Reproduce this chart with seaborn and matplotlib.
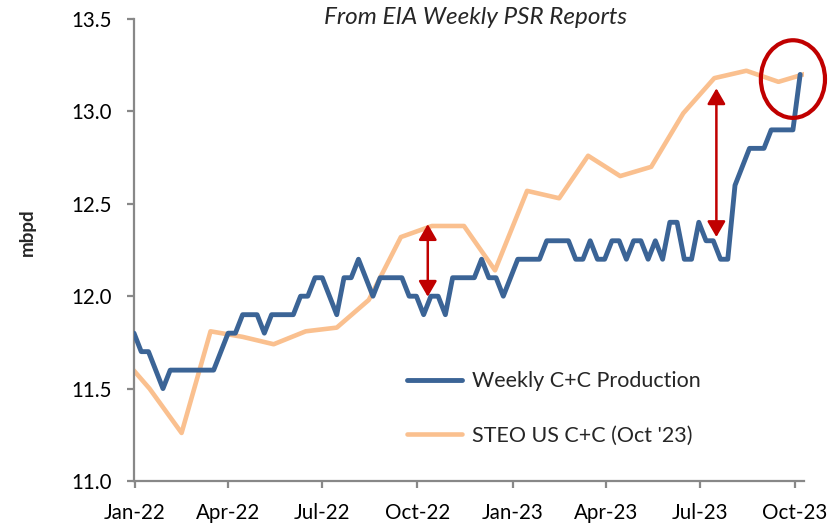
import numpy as np
import pandas as pd
import matplotlib
matplotlib.use("Agg")
import matplotlib.pyplot as plt
import matplotlib.dates as mdates
from matplotlib.patches import Ellipse
from matplotlib.lines import Line2D
import seaborn as sns

# ---------------- data ----------------
weekly_start = "2021-12-31"
weekly_values = [
    11.8, 11.7, 11.7, 11.6, 11.5,
    11.6, 11.6, 11.6, 11.6, 11.6, 11.6, 11.6,
    11.7, 11.8, 11.8, 11.9, 11.9, 11.9, 11.8, 11.9, 11.9, 11.9, 11.9,
    12.0, 12.0, 12.1, 12.1, 12.0, 11.9, 12.1, 12.1, 12.2, 12.1, 12.0,
    12.1, 12.1, 12.1, 12.1, 12.0, 12.0, 11.9, 12.0, 12.0, 11.9,
    12.1, 12.1, 12.1, 12.1, 12.2, 12.1, 12.1, 12.0, 12.1,
    12.2, 12.2, 12.2, 12.2, 12.3, 12.3, 12.3, 12.3, 12.2, 12.2, 12.3,
    12.2, 12.2, 12.3, 12.3, 12.2, 12.3, 12.3, 12.2, 12.3, 12.2,
    12.4, 12.4, 12.2, 12.2, 12.4, 12.3, 12.3, 12.2, 12.2,
    12.6, 12.7, 12.8, 12.8, 12.8, 12.9, 12.9, 12.9, 12.9, 13.2,
]
steo_months = [
    "2021-12-15", "2022-01-15", "2022-02-15", "2022-03-15", "2022-04-15",
    "2022-05-15", "2022-06-15", "2022-07-15", "2022-08-15", "2022-09-15",
    "2022-10-15", "2022-11-15", "2022-12-15", "2023-01-15", "2023-02-15",
    "2023-03-15", "2023-04-15", "2023-05-15", "2023-06-15", "2023-07-15",
    "2023-08-15", "2023-09-15", "2023-10-15",
]
steo_values = [
    11.70, 11.50, 11.26, 11.81, 11.78, 11.74, 11.81, 11.83, 11.98, 12.32,
    12.38, 12.38, 12.14, 12.57, 12.53, 12.76, 12.65, 12.70, 12.99, 13.18,
    13.22, 13.16, 13.21,
]
x_ticks = ["2022-01-01", "2022-04-01", "2022-07-01", "2022-10-01",
           "2023-01-01", "2023-04-01", "2023-07-01", "2023-10-01"]
y_ticks = [11.0, 11.5, 12.0, 12.5, 13.0, 13.5]
series_labels = ["Weekly C+C Production", "STEO US C+C (Oct '23)"]
title_text = "From EIA Weekly PSR Reports"
y_label = "mbpd"

# annotation arrows (date, low, high)
arrows = [("2022-10-11", 11.997, 12.39), ("2023-07-17", 12.32, 13.125)]
circle_center = ("2023-09-29", 13.175)

# ---------------- styling ----------------
BLUE = "#3B6496"
ORANGE = "#FAC08F"
RED = "#C00000"
GRAY = "#888888"
FONT = "Lato"

weekly_df = pd.DataFrame({
    "date": pd.date_range(weekly_start, periods=len(weekly_values), freq="7D"),
    "value": weekly_values,
})
steo_df = pd.DataFrame({"date": pd.to_datetime(steo_months), "value": steo_values})

sns.set_style("white")
plt.rcParams["font.family"] = [FONT, "DejaVu Sans"]

fig = plt.figure(figsize=(8.36, 5.23), dpi=100)
ax = fig.add_axes([134 / 836, 1 - 481 / 523, 670 / 836, 462 / 523])

sns.lineplot(data=steo_df, x="date", y="value", ax=ax, color=ORANGE,
             linewidth=3.3, solid_capstyle="round", solid_joinstyle="round",
             zorder=2)
sns.lineplot(data=weekly_df, x="date", y="value", ax=ax, color=BLUE,
             linewidth=3.5, solid_capstyle="round", solid_joinstyle="round",
             zorder=3)

x0 = pd.Timestamp(weekly_start)
ax.set_xlim(x0, x0 + pd.Timedelta(days=647.7))
ax.set_ylim(11.0, 13.5)
ax.set_xticks(pd.to_datetime(x_ticks))
ax.xaxis.set_major_formatter(mdates.DateFormatter("%b-%y"))
ax.set_yticks(y_ticks)
ax.yaxis.set_major_formatter(matplotlib.ticker.FormatStrFormatter("%.1f"))
ax.set_xlabel("")
ax.set_ylabel("")

for s in ["top", "right"]:
    ax.spines[s].set_visible(False)
for s in ["left", "bottom"]:
    ax.spines[s].set_color(GRAY)
    ax.spines[s].set_linewidth(1.6)
ax.tick_params(axis="y", direction="out", length=5, width=1.6, color=GRAY,
               labelsize=14.8, pad=11, labelcolor="black", left=True)
ax.tick_params(axis="x", direction="out", length=5, width=1.6, color=GRAY,
               labelsize=14.8, pad=11, labelcolor="black", bottom=True)

# arrows
for d, lo, hi in arrows:
    ax.annotate("", xy=(pd.Timestamp(d), hi), xytext=(pd.Timestamp(d), lo),
                arrowprops=dict(arrowstyle="<|-|>,head_length=0.95,head_width=0.55",
                                mutation_scale=10, color=RED, lw=1.8,
                                shrinkA=0, shrinkB=0), zorder=5)

# circle
cx = mdates.date2num(pd.Timestamp(circle_center[0]))
ell = Ellipse((cx, circle_center[1]), width=62, height=0.42, fill=False,
              edgecolor=RED, linewidth=3.0, clip_on=False, zorder=6)
ax.add_patch(ell)

# legend
handles = [Line2D([], [], color=BLUE, lw=3.5, solid_capstyle="round"),
           Line2D([], [], color=ORANGE, lw=3.3, solid_capstyle="round")]
fig.legend(handles, series_labels, loc="upper left",
           bbox_to_anchor=(388 / 836, 1 - 352 / 523), frameon=False,
           fontsize=15.5, handlelength=2.55, handletextpad=0.45,
           labelspacing=1.6)

fig.text(476 / 836, 1 - 18 / 523, title_text, ha="center", va="center",
         fontsize=17.5, style="italic")
fig.text(27.5 / 836, 1 - 232 / 523, y_label, ha="center", va="center",
         rotation=90, fontsize=13.5, fontweight="bold")

fig.savefig("out.png", dpi=100)
